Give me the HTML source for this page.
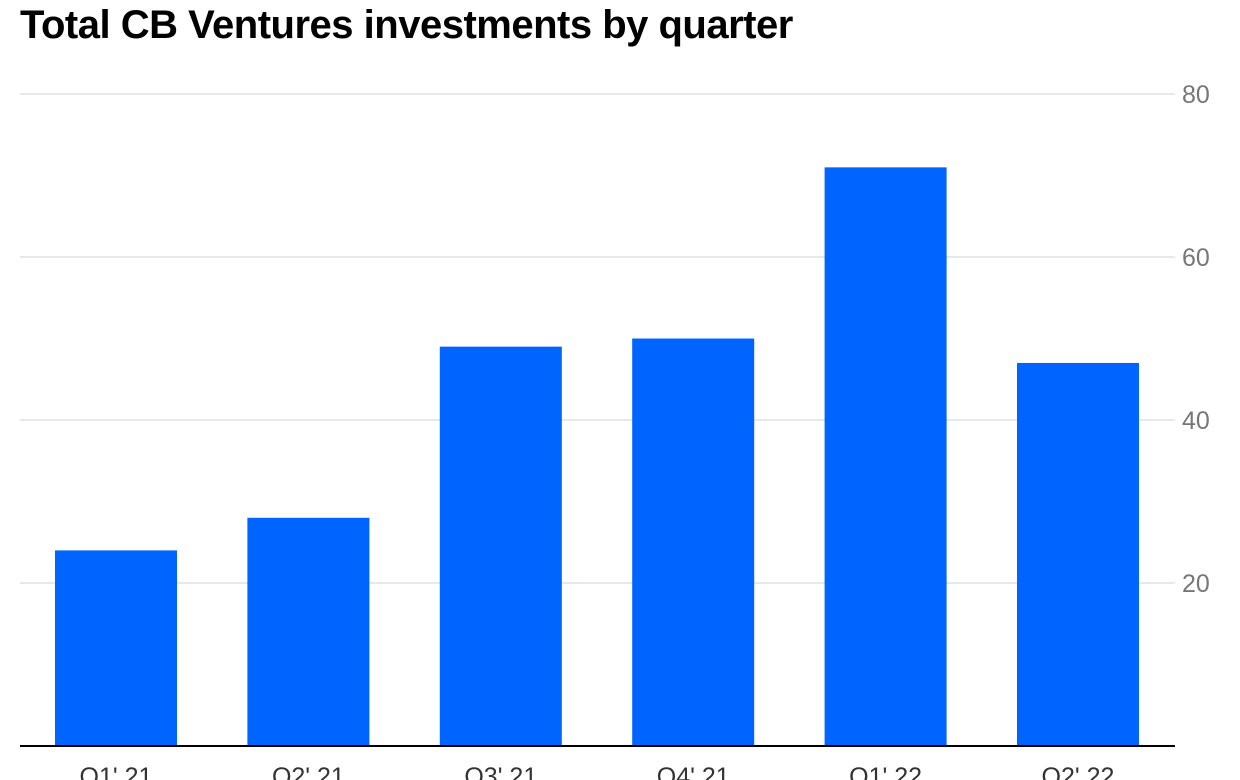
<!DOCTYPE html>
<html><head><meta charset="utf-8"><style>
html,body{margin:0;padding:0;background:#fff;width:1240px;height:780px;overflow:hidden}
svg{display:block;font-family:"Liberation Sans",sans-serif}
</style></head><body>
<svg width="1240" height="780">
<text x="20" y="38" font-size="40" font-weight="bold" fill="#000" style="letter-spacing:-0.5px">Total CB Ventures investments by quarter</text>
<g id="grid"></g><g id="bars"></g><g id="xl"></g>
<line x1="20" x2="1175" y1="746" y2="746" stroke="#000" stroke-width="2"/>
</svg>
<script>
const categories=["Q1' 21","Q2' 21","Q3' 21","Q4' 21","Q1' 22","Q2' 22"];
const values=[24,28,49,50,71,47];
const ticks=[20,40,60,80];
const NS="http://www.w3.org/2000/svg";
const y=v=>746-v*8.15;
const x=i=>55+i*192.4;
function mk(t,a){const e=document.createElementNS(NS,t);for(const k in a)e.setAttribute(k,a[k]);return e;}
const g=document.getElementById('grid');
ticks.forEach(t=>{
 const l=mk('line',{x1:20,x2:1175,y1:y(t),y2:y(t),stroke:'#e0e0e0','stroke-width':1.5});
 
 
 g.appendChild(l);
 const tx=mk('text',{x:1182,y:y(t)+9,'font-size':25,fill:'#777'});
 tx.textContent=t;
 
 
 g.appendChild(tx);
});
const b=document.getElementById('bars'),xl=document.getElementById('xl');
values.forEach((v,i)=>{
 const r=mk('rect',{x:x(i),y:y(v),width:122,height:746-y(v),fill:'#0064ff'});
 
 
 b.appendChild(r);
 const t=mk('text',{x:x(i)+61,y:785,'font-size':25,fill:'#333','text-anchor':'middle'});
 t.textContent=categories[i];
 
 
 xl.appendChild(t);
});
</script>
</body></html>
